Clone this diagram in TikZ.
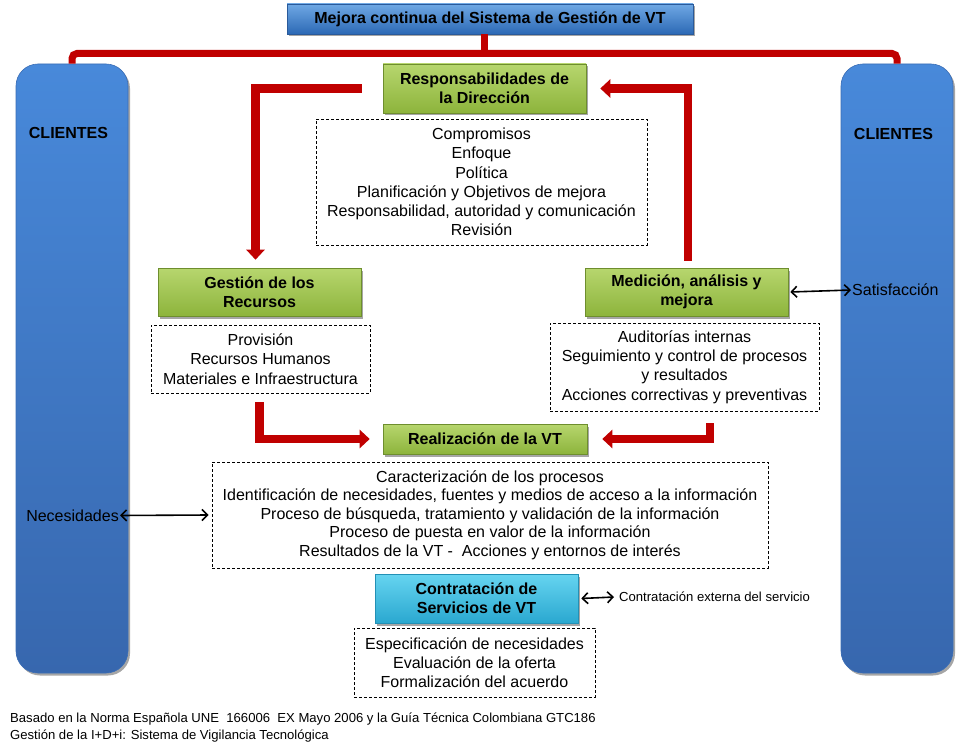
\documentclass[tikz,border=0pt]{standalone}
\usepackage{fontspec}
\setmainfont{Liberation Sans}
\usetikzlibrary{arrows.meta,shadows,calc}
\definecolor{vtred}{HTML}{C00000}
\definecolor{gtop}{HTML}{B7D66E}
\definecolor{gbot}{HTML}{8DB43C}
\definecolor{gline}{HTML}{6E8E2E}
\definecolor{btop}{HTML}{6FA8E4}
\definecolor{bbot}{HTML}{2C69B5}
\definecolor{bline}{HTML}{2A5A9A}
\definecolor{ptop}{HTML}{4889DA}
\definecolor{pbot}{HTML}{3767AE}
\definecolor{pline}{HTML}{3A6DB5}
\definecolor{ctop}{HTML}{66D4F0}
\definecolor{cbot}{HTML}{2AA8D0}
\definecolor{cline}{HTML}{2390B5}
\begin{document}
\begin{tikzpicture}[x=1pt,y=-1pt,
  every node/.style={inner sep=0pt, font=\fontsize{16}{19.3}\selectfont},
  boxshadow/.style={drop shadow={shadow xshift=2pt,shadow yshift=-2.5pt,opacity=0.35,fill=black}},
  greenbox/.style={draw=gline, line width=0.6pt, top color=gtop, bottom color=gbot, minimum width=203pt, minimum height=49pt, align=center, font=\bfseries\fontsize{16}{19}\selectfont, boxshadow},
  bluebox/.style={draw=bline, line width=0.6pt, top color=btop, bottom color=bbot, minimum width=406pt, minimum height=30pt, align=center, font=\bfseries\fontsize{16}{19}\selectfont, boxshadow},
  cyanbox/.style={draw=cline, line width=0.6pt, top color=ctop, bottom color=cbot, minimum width=203pt, minimum height=49pt, align=center, font=\bfseries\fontsize{16}{19}\selectfont, boxshadow},
  pillar/.style={draw=pline, line width=0.6pt, top color=ptop, bottom color=pbot, rounded corners=22pt, minimum width=112pt, minimum height=609pt, boxshadow},
  dashbox/.style={draw, dash pattern=on 3pt off 2pt, line width=0.8pt, align=center},
  redline/.style={draw=vtred, line width=7pt},
  redarrow/.style={draw=vtred, line width=8.5pt, -{Triangle[length=10pt,width=18pt]}},
  thinarrow/.style={line width=1.6pt, {Straight Barb[length=5.5pt,width=11pt]}-{Straight Barb[length=5.5pt,width=11pt]}},
  bodytext/.style={font=\fontsize{16}{19.3}\selectfont},
  smalltext/.style={font=\fontsize{13.1}{17}\selectfont}
]
\useasboundingbox[fill=white] (0,0) rectangle (970,749);

% pillars
\node[pillar] (pl) at (72,368.5) {};
\node[pillar] (pr) at (897,368.5) {};
\node[font=\bfseries\fontsize{16}{19}\selectfont] (cl) at (68.5,133) {CLIENTES};
\node[font=\bfseries\fontsize{16}{19}\selectfont] (cr) at (893.5,134) {CLIENTES};

% top box and bracket
\node[bluebox] (top) at (490,19) {Mejora continua del Sistema de Gestión de VT};
\draw[redline, rounded corners=5pt] (pl.north) -- (pl.north |- 0,53.5) -- (pr.north |- 0,53.5) -- (pr.north);
\draw[redline] ([xshift=-6pt]top.south) -- ([xshift=-6pt]top.south |- 0,53.5);

% main boxes
\node[greenbox] (resp) at (484.5,88.5) {Responsabilidades de\\la Dirección};
\node[dashbox, minimum width=331pt, minimum height=126pt] (d1) at (481.5,182) {Compromisos\\Enfoque\\Política\\Planificación y Objetivos de mejora\\Responsabilidad, autoridad y comunicación\\Revisión};

\node[greenbox, minimum height=48pt] (ges) at (259.5,292) {Gestión de los\\Recursos};
\node[dashbox, minimum width=219pt, minimum height=68pt] (d2) at (260.5,359) {Provisión\\Recursos Humanos\\Materiales e Infraestructura};

\node[greenbox, minimum height=48pt] (med) at (686.5,292) {Medición, análisis y\\mejora};
\node[dashbox, minimum width=269pt, minimum height=88pt] (d3) at (684.5,367) {Auditorías internas\\Seguimiento y control de procesos\\y resultados\\Acciones correctivas y preventivas};

\node[greenbox, minimum width=204pt, minimum height=30pt] (real) at (485,439) {Realización de la VT};
\node[dashbox, minimum width=556pt, minimum height=106pt, font=\fontsize{16}{18.6}\selectfont] (d4) at (490,515) {Caracterización de los procesos\\Identificación de necesidades, fuentes y medios de acceso a la información\\Proceso de búsqueda, tratamiento y validación de la información\\Proceso de puesta en valor de la información\\Resultados de la VT -\ \ Acciones y entornos de interés};

\node[cyanbox] (contr) at (476.5,598.5) {Contratación de\\Servicios de VT};
\node[dashbox, minimum width=241pt, minimum height=69pt] (d5) at (474.5,662.5) {Especificación de necesidades\\Evaluación de la oferta\\Formalización del acuerdo};

% red arrows
\draw[redarrow] ([xshift=-21pt]resp.west) -| ([xshift=-4pt,yshift=8pt]ges.north);
\draw[redarrow] ([xshift=1.5pt,yshift=7pt]med.north) |- ([xshift=14pt]resp.east);
\draw[redarrow] ([xshift=-1pt,yshift=-9pt]d2.south) |- ([xshift=-13pt]real.west);
\draw[redarrow] ([xshift=25.5pt,yshift=-12pt]d3.south) |- ([xshift=15pt]real.east);

% side labels and thin arrows
\node[bodytext, anchor=west] (sat) at (852,290) {Satisfacción};
\node[bodytext, anchor=east] (nec) at (119,515.5) {Necesidades};
\node[smalltext, anchor=west] (ext) at (619,597) {Contratación externa del servicio};
\draw[thinarrow] ([xshift=2pt]med.east) -- ([xshift=-1pt]sat.west);
\draw[thinarrow] ([xshift=1pt]nec.east) -- ([xshift=-3pt]d4.west);
\draw[thinarrow] ([xshift=3pt]contr.east) -- ([xshift=-5pt]ext.west);

% footer
\node[smalltext, anchor=west, align=left] (foot) at (10,727.5) {Basado en la Norma Española UNE\ \ 166006\ \ EX Mayo 2006 y la Guía Técnica Colombiana GTC186\\Gestión de la I+D+i: Sistema de Vigilancia Tecnológica};
\end{tikzpicture}
\end{document}
